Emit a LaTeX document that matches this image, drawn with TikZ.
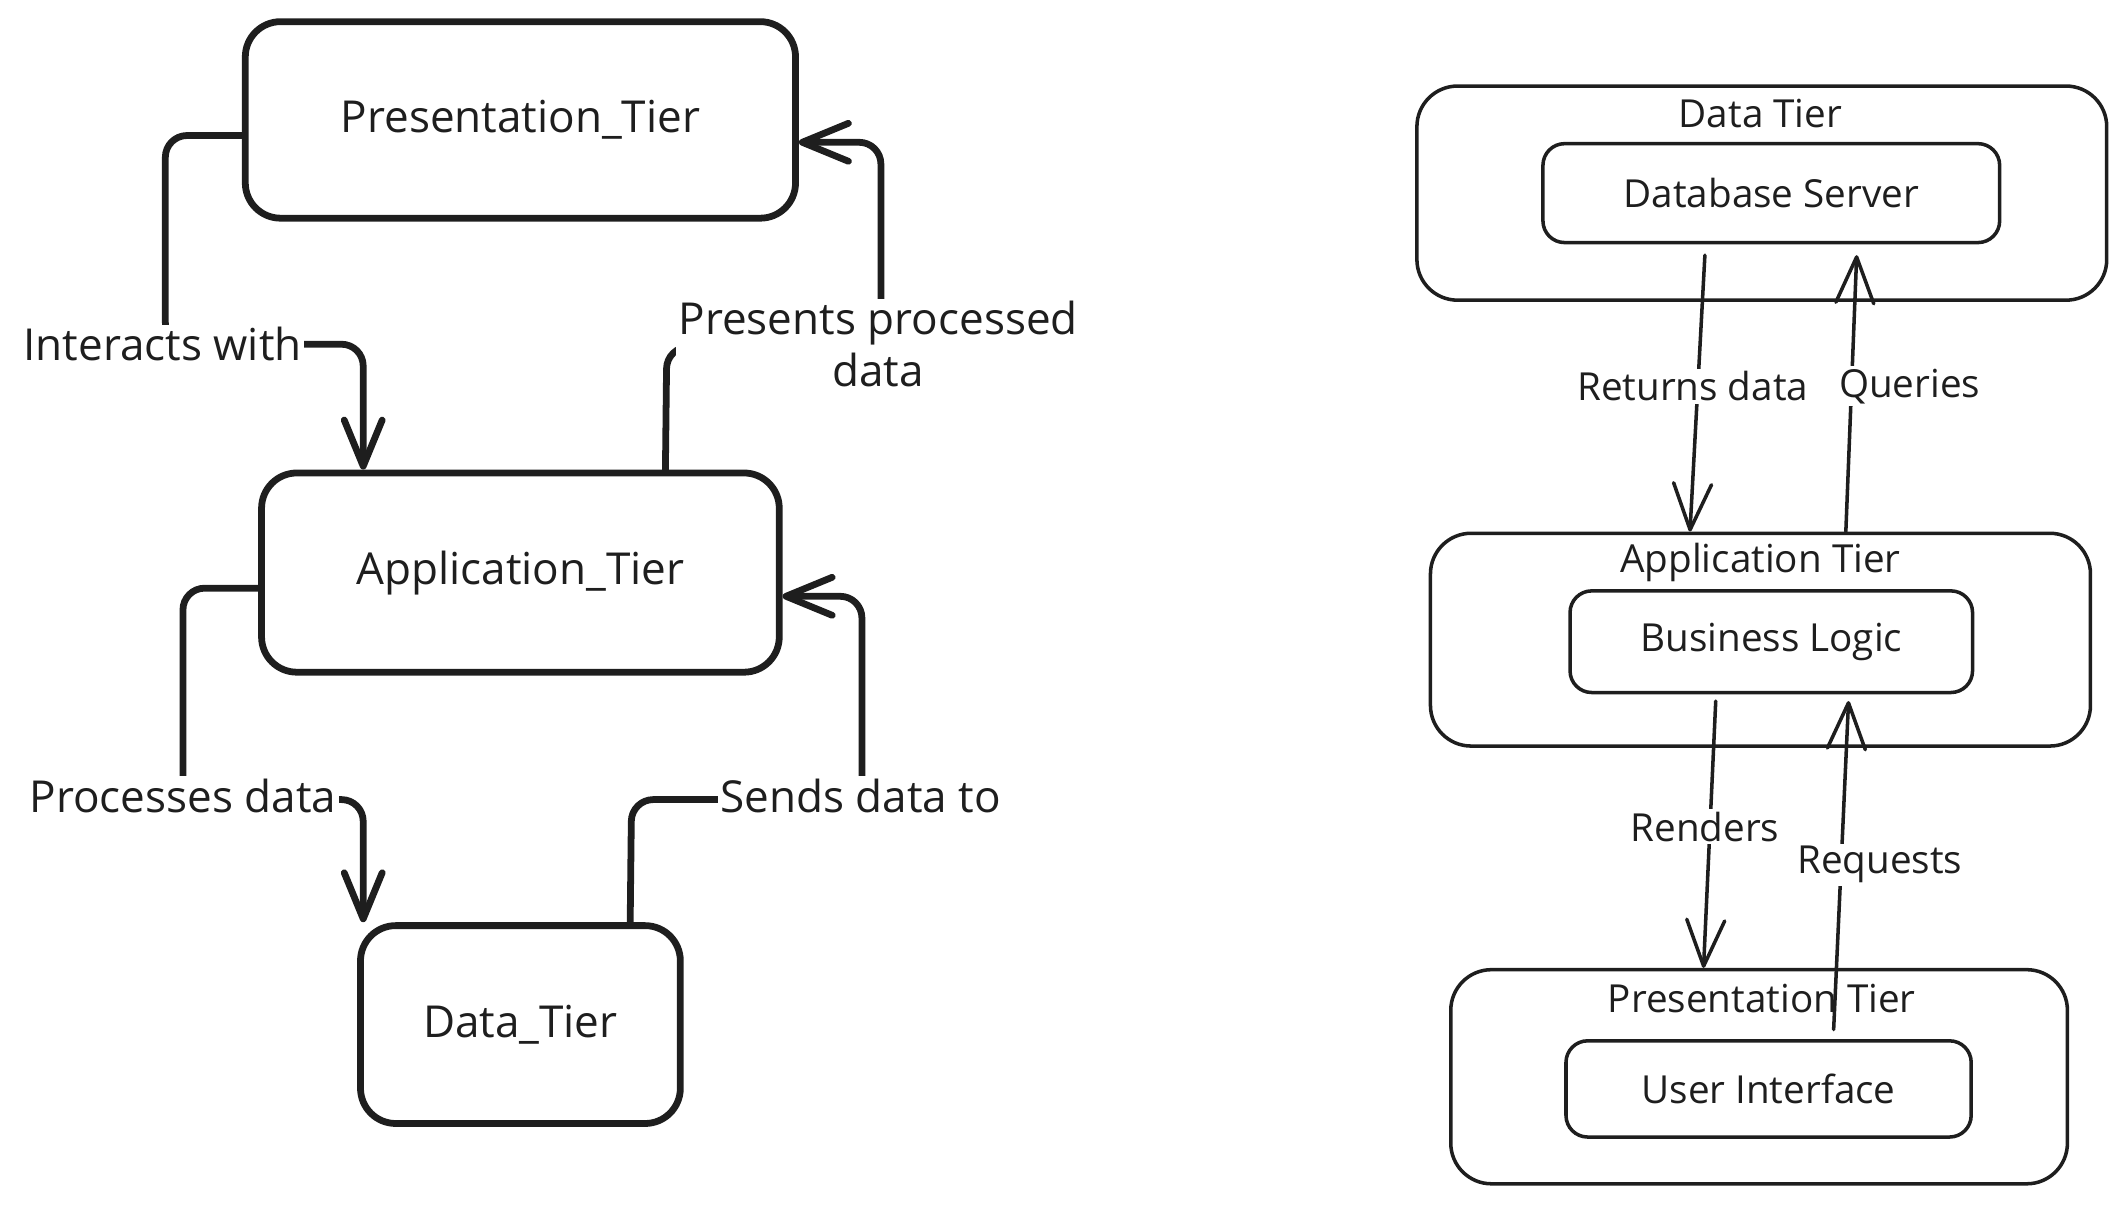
\documentclass[tikz,border=0pt]{standalone}
\usepackage{fontspec}
\setmainfont{Open Sans}
\usetikzlibrary{arrows.meta}
\definecolor{ink}{HTML}{1E1E1E}
\begin{document}
\begin{tikzpicture}[x=1pt,y=-1pt,
  ltxt/.style={text=ink, font=\fontsize{32.5}{38}\selectfont, inner sep=2pt},
  rtxt/.style={text=ink, font=\fontsize{28.5}{34}\selectfont, inner sep=2pt},
  thickbox/.style={draw=ink, line width=5pt, rounded corners=26pt, ltxt},
  outerbox/.style={draw=ink, line width=2.6pt, rounded corners=30pt},
  innerbox/.style={draw=ink, line width=2.6pt, rounded corners=16pt, rtxt},
  thk/.style={draw=ink, line width=5pt, rounded corners=16pt, line cap=round, line join=round,
    -{Straight Barb[length=34pt, width=28pt, line cap=round, line join=round]}},
  thn/.style={draw=ink, line width=2.6pt, line cap=round, line join=round,
    -{Straight Barb[length=34pt, width=28pt, line cap=round, line join=round]}},
  llbl/.style={ltxt, fill=white, align=center},
  rlbl/.style={rtxt, fill=white, align=center},
  title/.style={rtxt}
]
\useasboundingbox (0,0) rectangle (1568,890);

% ---------- left diagram ----------
\node[thickbox, minimum width=406pt, minimum height=145pt] (ptier) at (384,88.5) {Presentation\_Tier};
\node[thickbox, minimum width=382pt, minimum height=147pt] (atier) at (384,422.5) {Application\_Tier};
\node[thickbox, minimum width=236pt, minimum height=146pt] (dtier) at (384,756) {Data\_Tier};

\draw[thk] ([yshift=-11.5pt]ptier.west) -- (122,100) -- (122,254) -- (268,254) -- ([xshift=-116pt]atier.north);
\draw[thk] ([xshift=107pt]atier.north) -- (492,256) -- (650,256) -- (650,105) -- ([yshift=-16.5pt]ptier.east);
\draw[thk] ([yshift=-11.5pt]atier.west) -- (135,434) -- (135,590) -- (268,590) -- ([xshift=-116pt]dtier.north);
\draw[thk] ([xshift=81pt]dtier.north) -- (466,590) -- (636,590) -- (636,440) -- ([yshift=-17.5pt]atier.east);

\node[llbl] (l1) at (120,254) {Interacts with};
\node[llbl] (l2) at (648,254) {Presents processed\\data};
\node[llbl] (l3) at (135,587) {Processes data};
\node[llbl] (l4) at (635,587) {Sends data to};

% ---------- right diagram ----------
\node[outerbox, minimum width=509pt, minimum height=158pt] (dout) at (1300,142.5) {};
\node[title] (dtitle) at (1299,84) {Data Tier};
\node[innerbox, minimum width=337pt, minimum height=73pt] (db) at (1307,142.5) {Database Server};

\node[outerbox, minimum width=487pt, minimum height=157pt] (aout) at (1299,472) {};
\node[title] (atitle) at (1299,415) {Application Tier};
\node[innerbox, minimum width=297pt, minimum height=75pt] (biz) at (1307,473.5) {Business Logic};

\node[outerbox, minimum width=455pt, minimum height=158pt] (pout) at (1298,794.5) {};
\node[title] (ptitle) at (1300,737) {Presentation Tier};
\node[innerbox, minimum width=299pt, minimum height=71pt] (ui) at (1305,803.5) {User Interface};

\draw[thn] ([shift={(-49pt,-8pt)}]db.south) -- ([xshift=-52pt]aout.north);
\draw[thn] ([xshift=63pt]aout.north) -- ([shift={(63pt,-8pt)}]db.south);
\draw[thn] ([shift={(-41pt,-5pt)}]biz.south) -- ([xshift=-41pt]pout.north);
\draw[thn] ([shift={(48pt,7pt)}]ui.north) -- ([shift={(57pt,-5pt)}]biz.south);

\node[rlbl] (r1) at (1249,285) {Returns data};
\node[rlbl] (r2) at (1409,285) {Queries};
\node[rlbl] (r3) at (1258,610) {Renders};
\node[rlbl] (r4) at (1387,638) {Requests};
\end{tikzpicture}
\end{document}
